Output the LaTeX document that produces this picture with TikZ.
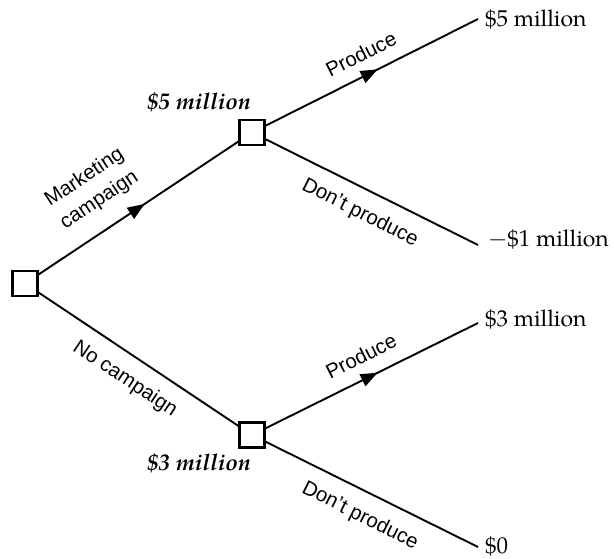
\documentclass[tikz,border=0pt]{standalone}
\usepackage{fontspec}
\setmainfont{texgyrepagella}[Extension=.otf, UprightFont=*-regular, BoldFont=*-bold, ItalicFont=*-italic, BoldItalicFont=*-bolditalic]
\setsansfont{Liberation Sans}
\usetikzlibrary{arrows.meta,decorations.markings}

\begin{document}
\begin{tikzpicture}[x=1bp,y=1bp,
  decision/.style={draw, line width=2.3bp, minimum size=25bp, inner sep=0, outer sep=0},
  branch/.style={line width=1.9bp},
  flow/.style={branch, postaction={decorate}, decoration={markings,
      mark=at position 0.53 with {\arrow{Triangle[length=17bp,width=13bp]}}}},
  choice/.style={font=\sffamily\fontsize{20.5}{27}\selectfont, inner sep=0, align=center},
  payoff/.style={font=\fontsize{23}{27}\selectfont, anchor=base west, inner sep=0},
  value/.style={font=\bfseries\itshape\fontsize{23}{27}\selectfont, inner sep=0}]

\useasboundingbox (0,0) rectangle (614,559);

% decision points
\node[decision] (root) at (25,275.5) {};
\node[decision] (up)   at (252,426.5) {};
\node[decision] (low)  at (252,124) {};

% free ends of the outcome branches
\coordinate (e1) at (478,540);
\coordinate (e2) at (478,314);
\coordinate (e3) at (478,236);
\coordinate (e4) at (478,12);

% branches
\draw[flow]   (root) -- (up);
\draw[branch] (root) -- (low);
\draw[flow]   (up) -- (e1);
\draw[branch] (up) -- (e2);
\draw[flow]   (low) -- (e3);
\draw[branch] (low) -- (e4);

% branch labels
\node[choice, rotate=33.6]  (lmc) at (92,370) {Marketing\\campaign};
\node[choice, rotate=-33.6] (lnc) at (125,180) {No campaign};
\node[choice, rotate=26.7]  (lp1) at (361,505) {Produce};
\node[choice, rotate=-26.7] (ld1) at (360,346) {Don’t produce};
\node[choice, rotate=26.7]  (lp2) at (361,203) {Produce};
\node[choice, rotate=-26.7] (ld2) at (360,43) {Don’t produce};

% expected values at the decision points
\node[value] (v1) at (199,457) {\$5 million};
\node[value] (v2) at (199,96) {\$3 million};

% payoffs
\node[payoff] (p1) at (485,532) {\$5 million};
\node[payoff] (p2) at (488,312) {$-$\$1 million};
\node[payoff] (p3) at (485,232) {\$3 million};
\node[payoff] (p4) at (485,5) {\$0};
\end{tikzpicture}
\end{document}
